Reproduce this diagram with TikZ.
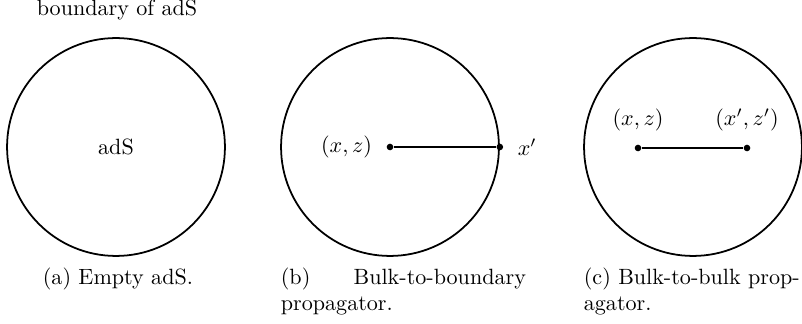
\documentclass[tikz,border=0pt]{standalone}
\usepackage{amsmath}
\usetikzlibrary{positioning}

\begin{document}
\begin{tikzpicture}[x=0.4525pt,y=-0.4525pt,thick,
  disk/.style={circle,draw,minimum size=98.6pt},
  dot/.style={circle,fill,inner sep=0pt,minimum size=3pt},
  capt/.style={anchor=north west,inner sep=0pt,align=left}]
\useasboundingbox (0,0) rectangle (802,324);
% (a) empty adS
\node[disk] (da) at (116,147) {adS};
\node (bdry) at (117,10) {boundary of adS};
\node[capt] (capa) at (42,267) {(a) Empty adS.};
% (b) bulk-to-boundary
\node[disk] (db) at (390,147) {};
\node[dot] (xb) at (db.center) {};
\node[dot] (xpb) at (db.east) {};
\draw (xb)--(xpb);
\node[left=2.5pt of xb] {\((x,z)\)};
\node[right=2.5pt of xpb] {\(x'\)};
\node[capt,text width=110.9pt] (capb) at (280,267) {(b)\hfill Bulk-to-boundary\\propagator.};
% (c) bulk-to-bulk
\node[disk] (dc) at (693,147) {};
\node[dot] (xc) at (638,148) {};
\node[dot] (xpc) at (747,148) {};
\draw (xc)--(xpc);
\node[above=2pt of xc] {\((x,z)\)};
\node[above=2pt of xpc] {\((x',z')\)};
\node[capt] (capc) at (583,267) {(c) Bulk-to-bulk prop-\\agator.};
\end{tikzpicture}
\end{document}
